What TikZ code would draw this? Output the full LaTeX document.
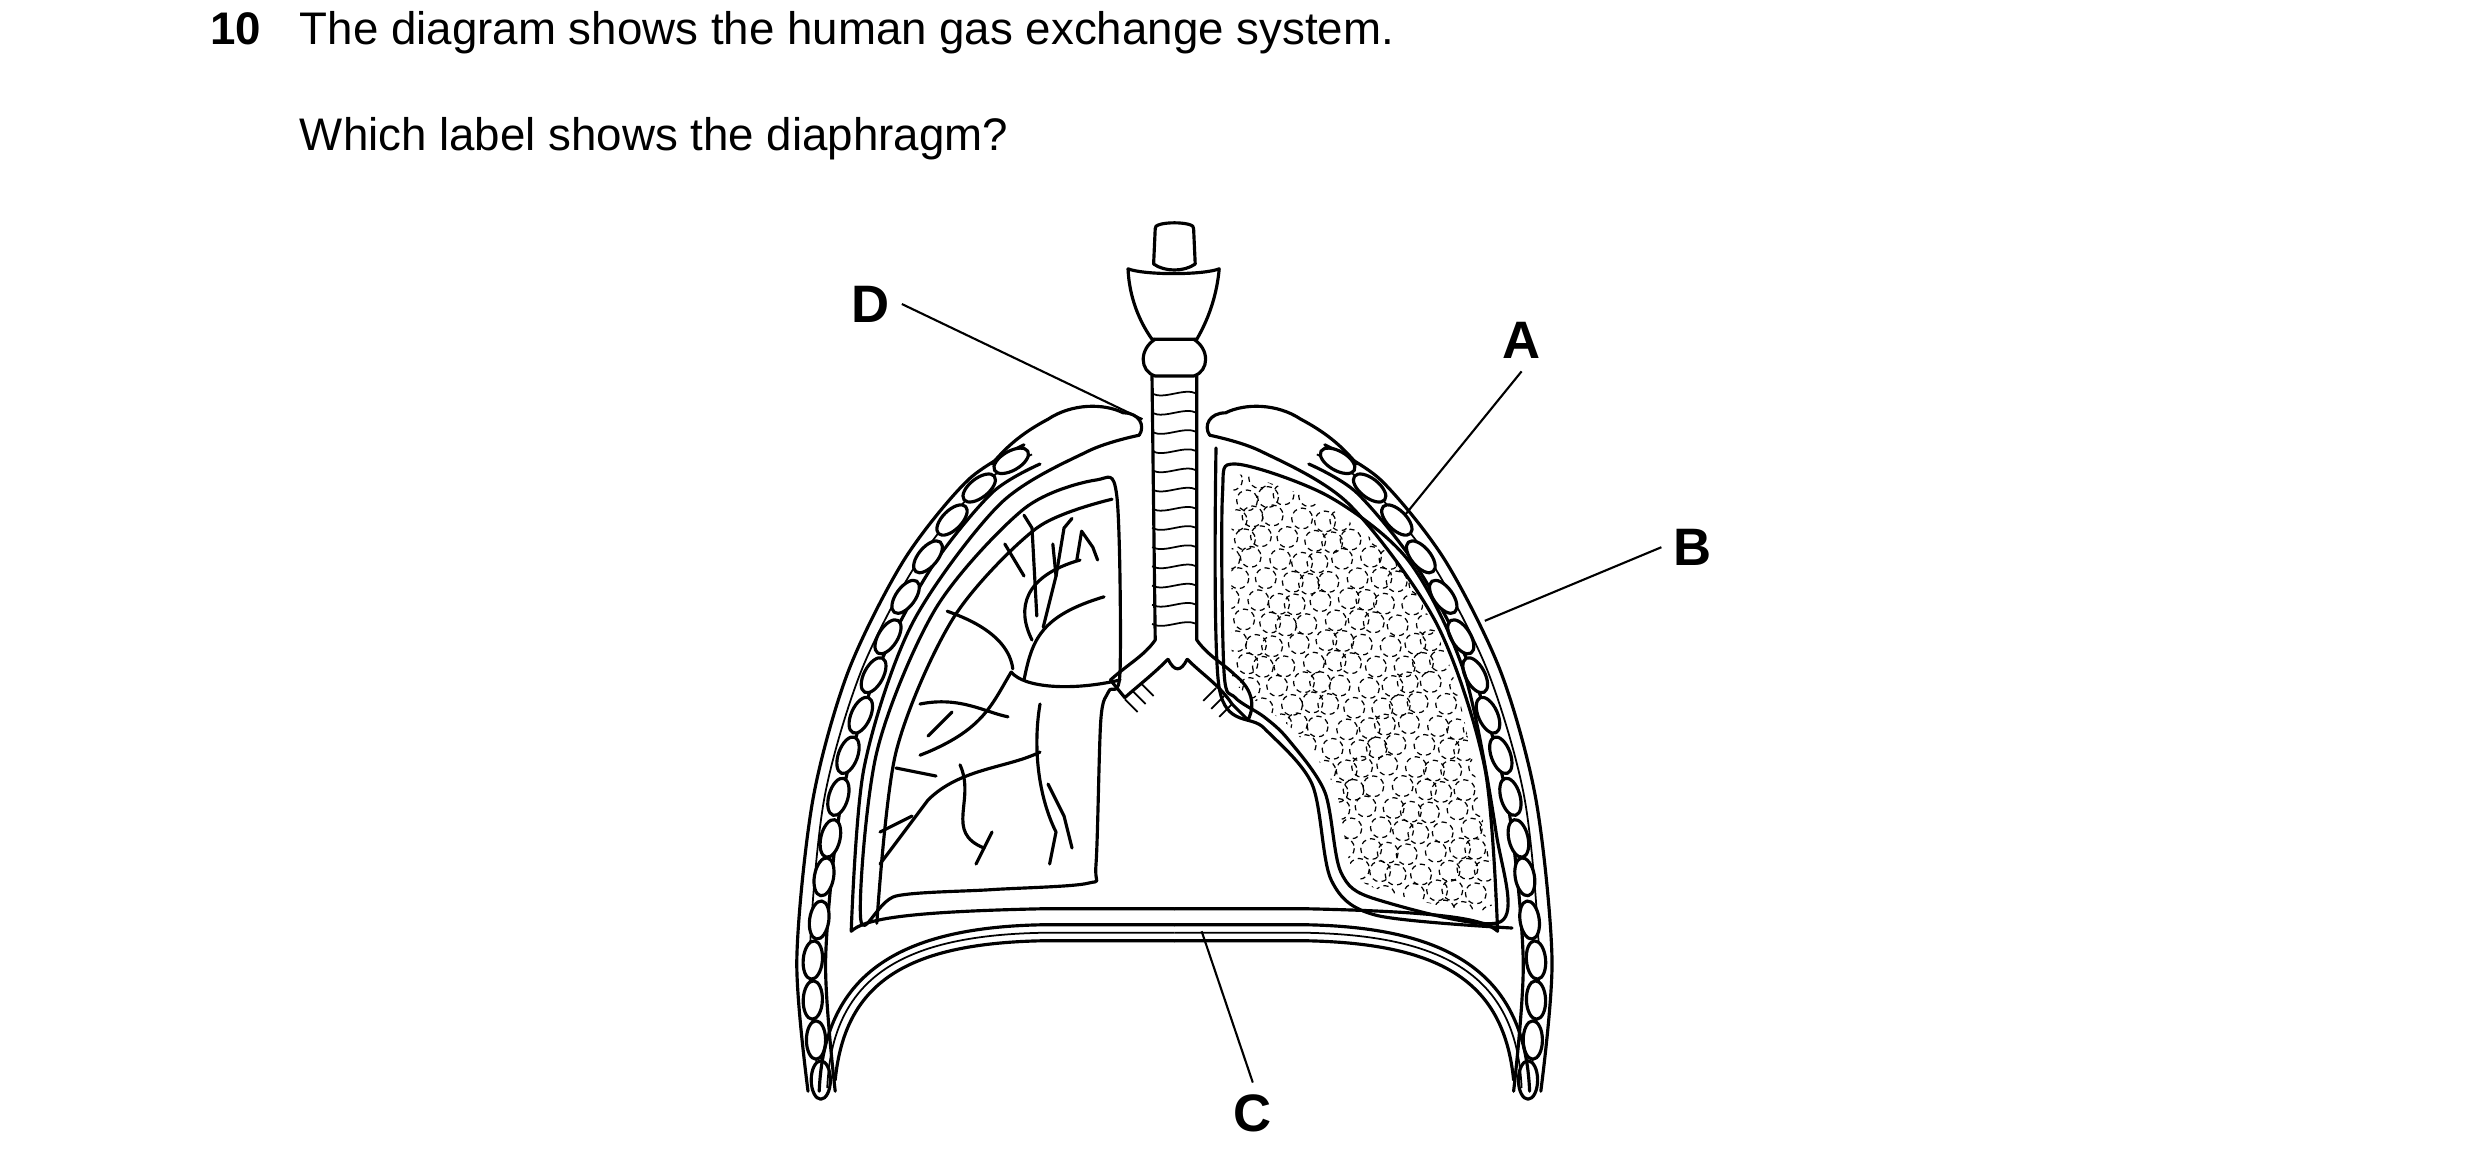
\documentclass[tikz,border=0pt]{standalone}
\usepackage{fontspec}
\setmainfont{Liberation Sans}
\begin{document}
\begin{tikzpicture}[x=0.016cm,y=-0.016cm,
  ln/.style={line width=0.9pt,line join=round,line cap=round},
  th/.style={line width=0.5pt},
  lab/.style={font=\bfseries\fontsize{15}{18}\selectfont},
  lead/.style={line width=0.6pt}]
\useasboundingbox (0,0) rectangle (1550,724);
\node[anchor=base west,font=\bfseries\fontsize{13}{15}\selectfont,inner sep=0pt] (q) at (131,28) {10};
\node[anchor=base west,font=\fontsize{13}{15}\selectfont,inner sep=0pt] (t1) at (187,28) {The diagram shows the human gas exchange system.};
\node[anchor=base west,font=\fontsize{13}{15}\selectfont,inner sep=0pt] (t2) at (187,94) {Which label shows the diaphragm?};

% rib cages (both sides)
\foreach \s in {1,-1}{
 \begin{scope}[xshift={(1-\s)*734*0.016cm},xscale=\s]
  \draw[ln] plot[smooth] coordinates {(505,682)(498,600)(508,500)(530,420)(565,350)(605,300)(640,278)};
  \draw[ln] plot[smooth] coordinates {(522,682)(516,600)(526,500)(548,420)(582,355)(620,308)(650,290)};
  \draw[th] plot[smooth] coordinates {(511,670)(506,600)(515,500)(538,420)(573,352)(612,304)(645,284)};
  \foreach \x/\y/\a in {513/675/90,510/650/90,508/625/88,508/600/85,512/575/82,515/548/80,519/524/77,524/498/74,530/472/70,538/447/66,546/422/62,555/398/58,566/373/54,580/348/50,595/325/45,612/305/38,632/288/30}
   \draw[ln,fill=white] (\x,\y) ellipse[x radius=12,y radius=6,rotate=\a];
  \draw[ln] plot[smooth] coordinates {(532,582)(540,480)(570,390)(625,315)(680,282)(712,272)};
  \draw[ln] (712,272) .. controls (716,266) and (712,258) .. (702,258) .. controls (690,252) and (670,252) .. (655,262) .. controls (640,270) and (630,278) .. (620,290);
  \draw[ln] (512,682) .. controls (515,610) and (560,580) .. (650,578) -- (734,578);
  \draw[ln] (522,675) .. controls (528,615) and (565,590) .. (650,588) -- (734,588);
  \draw[th] (517,680) .. controls (520,612) and (562,585) .. (650,583) -- (734,583);
  \draw[ln] (532,582) .. controls (540,575) and (560,570) .. (650,568) -- (734,568);
 \end{scope}}

% left lung
\draw[ln] plot[smooth cycle] coordinates {(538,575)(548,470)(585,380)(640,318)(685,300)(698,310)(700,420)(693,432)(688,450)(685,540)(680,552)(620,556)(560,560)};
\draw[ln] plot[smooth] coordinates {(548,577)(560,470)(596,386)(648,330)(695,312)};
% right lung
\draw[ln] plot[smooth cycle] coordinates {(772,290)(830,310)(880,350)(915,420)(935,520)(938,576)(860,562)(838,545)(828,495)(805,462)(790,448)(772,436)(765,420)(764,310)};
\draw[ln] plot[smooth] coordinates {(760,280)(762,430)(790,455)(820,490)(832,550)(860,572)(945,580)};
\begin{scope}
 \clip plot[smooth cycle] coordinates {(772,296)(828,316)(875,355)(908,422)(928,520)(930,568)(862,556)(844,540)(834,492)(810,458)(790,442)(775,430)(770,420)(770,310)};
 \foreach \i in {0,...,12}{\foreach \j in {0,...,21}{
   \pgfmathsetmacro{\xx}{770+\i*14+mod(\j,2)*7+3*sin(\i*97+\j*53)}
   \pgfmathsetmacro{\yy}{298+\j*13+2*cos(\i*71+\j*29)}
   \draw[line width=0.35pt,dash pattern=on 1.5pt off 1.2pt] (\xx,\yy) circle[radius=6.5];}}
\end{scope}

% bronchial tree (left lung)
\draw[ln] (700,425) .. controls (670,432) and (640,430) .. (632,420);
\draw[ln] (632,420) .. controls (620,440) and (615,455) .. (580,470) -- (575,472);
\draw[ln] (633,418) .. controls (630,395) and (600,385) .. (592,382);
\draw[ln] (640,425) .. controls (645,400) and (650,385) .. (690,373);
\draw[ln] (645,400) .. controls (635,380) and (640,360) .. (675,350);
\draw[ln] (652,392) -- (660,360) -- (658,340);
\draw[ln] (660,360) -- (665,330) -- (670,324);
\draw[ln] (648,385) -- (645,330) -- (640,322);
\draw[ln] (673,350) -- (676,332) -- (683,342) -- (686,350);
\draw[ln] (640,360) -- (628,340);
\draw[ln] (650,440) .. controls (645,470) and (650,500) .. (660,520) -- (656,540);
\draw[ln] (650,470) .. controls (630,480) and (600,480) .. (580,500) -- (550,540);
\draw[ln] (600,478) .. controls (610,500) and (590,520) .. (615,530) -- (610,540);
\draw[ln] (575,440) .. controls (600,435) and (615,445) .. (630,448);
\draw[ln] (595,445) -- (580,460);
\draw[ln] (560,480) -- (585,485);
\draw[ln] (570,510) -- (550,520);
\draw[ln] (655,490) -- (665,510) -- (670,530);
\draw[ln] (615,530) -- (620,520);

% trachea and larynx
\draw[ln] (722,143) .. controls (720,138) and (748,138) .. (746,143) -- (747,165) .. controls (740,170) and (728,170) .. (721,165) -- cycle;
\draw[ln] (705,168) .. controls (715,172) and (752,172) .. (762,168) .. controls (760,190) and (752,205) .. (748,212) -- (720,212) .. controls (715,205) and (706,190) .. (705,168);
\draw[ln] (722,212) .. controls (712,218) and (712,232) .. (722,235) -- (746,235) .. controls (756,232) and (756,218) .. (746,212);
\draw[ln] (720,235) -- (722,400) .. controls (715,410) and (705,415) .. (694,425);
\draw[ln] (748,235) -- (748,400) .. controls (755,410) and (765,415) .. (772,422);
\draw[ln] (730,412) .. controls (734,420) and (738,420) .. (742,412);
\draw[ln] (730,412) .. controls (720,422) and (712,428) .. (703,436);
\draw[ln] (742,412) .. controls (752,422) and (762,428) .. (770,440);
\foreach \y in {246,258,270,282,294,306,318,330,342,354,366,378,390}
 \draw[th] (720,\y) .. controls (728,\y+4) and (740,\y-4) .. (748,\y);
\foreach \k in {0,1,2}{
 \draw[th] ({703+\k*5},{437-\k*5}) -- ++(8,8);
 \draw[th] ({770-\k*5},{440-\k*5}) -- ++(-8,8);}
\draw[ln] (694,425) -- (703,436);
\draw[ln] (772,422) .. controls (782,430) and (785,440) .. (780,450) -- (770,440);

% labels and leaders
\node[lab] (D) at (544,190) {D};
\node[lab] (A) at (951,213) {A};
\node[lab] (B) at (1058,342) {B};
\node[lab] (C) at (783,696) {C};
\coordinate (dp) at (714,262);
\coordinate (ap) at (878,322);
\coordinate (bp) at (928,388);
\coordinate (cp) at (751,582);
\draw[lead] (D.east) -- (dp);
\draw[lead] (A.south) -- (ap);
\draw[lead] (B.west) -- (bp);
\draw[lead] (C.north) -- (cp);
\end{tikzpicture}
\end{document}
